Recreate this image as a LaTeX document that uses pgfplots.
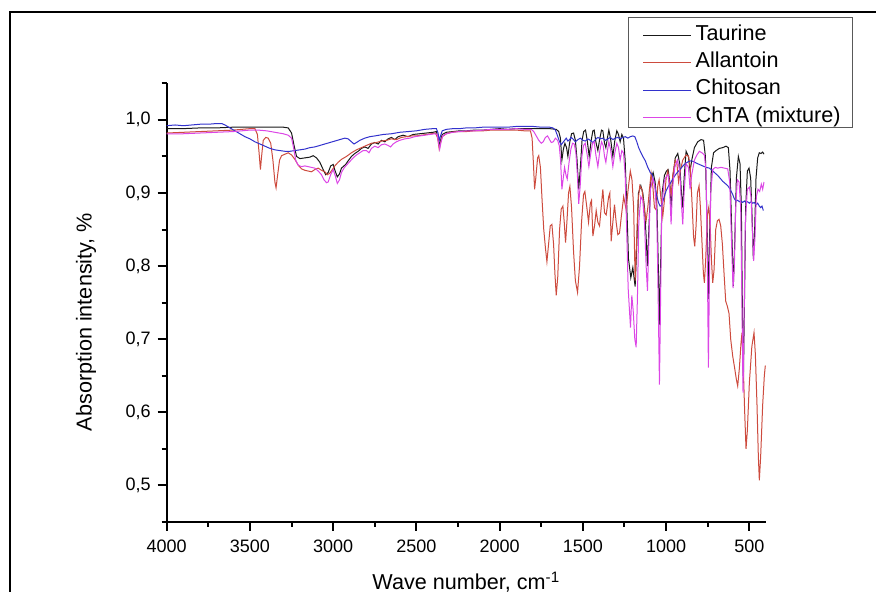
\documentclass[border=0pt]{standalone}
\usepackage{fontspec}
\setmainfont{Liberation Sans}
\usepackage{pgfplots}
\usepackage{pgfplotstable}
\pgfplotsset{compat=1.18}

\definecolor{taur}{RGB}{25,25,25}
\definecolor{allan}{RGB}{205,75,62}
\definecolor{chito}{RGB}{50,50,205}
\definecolor{chta}{RGB}{220,70,230}

% Taurine
\pgfplotstableread{
w v
4000 0.988
3900 0.988
3800 0.989
3700 0.989
3600 0.990
3500 0.990
3400 0.990
3300 0.990
3270 0.989
3250 0.982
3235 0.965
3220 0.950
3200 0.947
3170 0.948
3140 0.949
3120 0.951
3100 0.948
3080 0.942
3060 0.932
3045 0.925
3030 0.928
3015 0.937
3000 0.939
2988 0.930
2975 0.922
2962 0.926
2950 0.934
2940 0.936
2925 0.939
2910 0.944
2890 0.950
2870 0.954
2850 0.957
2830 0.961
2810 0.963
2790 0.961
2770 0.967
2750 0.969
2730 0.967
2710 0.972
2690 0.970
2670 0.974
2650 0.976
2630 0.973
2610 0.977
2580 0.979
2550 0.977
2520 0.980
2480 0.981
2440 0.982
2400 0.983
2380 0.984
2370 0.975
2362 0.964
2355 0.972
2345 0.980
2320 0.983
2280 0.984
2240 0.985
2200 0.985
2150 0.986
2100 0.986
2050 0.987
2000 0.988
1950 0.987
1900 0.988
1850 0.988
1800 0.988
1750 0.988
1700 0.988
1660 0.987
1645 0.984
1635 0.975
1626 0.945
1617 0.960
1608 0.968
1598 0.962
1590 0.950
1580 0.968
1568 0.981
1556 0.982
1545 0.972
1535 0.945
1525 0.905
1515 0.935
1505 0.972
1495 0.984
1484 0.986
1474 0.972
1462 0.950
1450 0.972
1440 0.985
1432 0.986
1422 0.970
1410 0.958
1398 0.975
1388 0.986
1380 0.985
1370 0.968
1362 0.962
1352 0.976
1344 0.986
1334 0.975
1320 0.950
1308 0.972
1296 0.985
1286 0.980
1276 0.970
1266 0.980
1256 0.975
1246 0.945
1236 0.880
1226 0.810
1212 0.784
1200 0.798
1186 0.772
1176 0.830
1166 0.900
1152 0.910
1140 0.900
1130 0.880
1120 0.840
1112 0.800
1102 0.860
1092 0.918
1078 0.928
1066 0.915
1055 0.880
1046 0.790
1040 0.720
1034 0.790
1024 0.900
1010 0.924
998 0.930
988 0.932
978 0.915
970 0.880
960 0.920
945 0.948
930 0.954
918 0.940
908 0.900
900 0.880
892 0.920
880 0.957
866 0.950
856 0.930
846 0.945
830 0.962
810 0.970
790 0.973
775 0.972
764 0.950
754 0.860
746 0.755
738 0.850
728 0.935
715 0.955
700 0.958
680 0.961
660 0.962
640 0.964
626 0.962
616 0.930
606 0.850
596 0.773
588 0.830
578 0.920
566 0.950
556 0.940
548 0.880
540 0.700
536 0.640
530 0.740
522 0.880
512 0.930
502 0.934
492 0.920
484 0.870
476 0.810
468 0.850
460 0.920
450 0.948
440 0.955
430 0.954
420 0.956
412 0.953
}\taurine

% Allantoin
\pgfplotstableread{
w v
4000 0.982
3900 0.983
3800 0.984
3700 0.985
3600 0.986
3550 0.987
3500 0.988
3470 0.988
3455 0.980
3445 0.955
3437 0.932
3430 0.950
3420 0.972
3405 0.976
3390 0.975
3375 0.968
3362 0.945
3350 0.915
3343 0.907
3335 0.922
3322 0.945
3310 0.951
3290 0.953
3270 0.955
3250 0.952
3230 0.946
3210 0.938
3190 0.933
3170 0.931
3150 0.930
3130 0.929
3110 0.932
3090 0.934
3070 0.931
3050 0.929
3035 0.925
3020 0.927
3005 0.932
2990 0.937
2970 0.942
2950 0.946
2920 0.950
2890 0.955
2860 0.959
2830 0.962
2800 0.965
2770 0.968
2740 0.969
2710 0.971
2680 0.972
2650 0.974
2620 0.973
2590 0.976
2560 0.977
2530 0.978
2500 0.978
2470 0.979
2440 0.980
2410 0.981
2385 0.982
2372 0.975
2363 0.960
2355 0.968
2345 0.977
2320 0.981
2290 0.983
2250 0.984
2200 0.984
2150 0.985
2100 0.985
2050 0.986
2000 0.986
1950 0.986
1900 0.986
1850 0.985
1815 0.985
1805 0.975
1797 0.940
1790 0.905
1783 0.920
1772 0.948
1765 0.951
1755 0.935
1745 0.890
1735 0.850
1725 0.825
1716 0.806
1706 0.830
1696 0.855
1686 0.857
1676 0.830
1668 0.790
1660 0.760
1651 0.785
1640 0.850
1630 0.878
1620 0.882
1612 0.860
1604 0.832
1596 0.860
1586 0.900
1578 0.909
1568 0.880
1556 0.820
1545 0.780
1532 0.764
1520 0.800
1508 0.860
1496 0.898
1488 0.902
1476 0.880
1466 0.860
1455 0.886
1448 0.890
1440 0.841
1430 0.855
1420 0.876
1410 0.860
1400 0.855
1390 0.880
1380 0.905
1370 0.873
1360 0.870
1345 0.895
1338 0.900
1330 0.834
1320 0.860
1310 0.884
1300 0.860
1290 0.843
1280 0.845
1268 0.870
1255 0.895
1240 0.877
1228 0.905
1215 0.930
1205 0.918
1195 0.880
1186 0.780
1178 0.830
1168 0.890
1158 0.910
1145 0.905
1132 0.880
1120 0.862
1110 0.880
1100 0.905
1090 0.927
1080 0.910
1070 0.880
1060 0.877
1050 0.910
1042 0.918
1032 0.895
1020 0.868
1010 0.890
1000 0.920
990 0.930
980 0.915
970 0.895
960 0.925
945 0.945
935 0.940
925 0.915
915 0.930
900 0.945
880 0.952
865 0.950
855 0.935
845 0.890
835 0.840
828 0.827
820 0.855
812 0.900
802 0.910
794 0.880
784 0.830
776 0.790
770 0.777
762 0.810
752 0.870
744 0.880
736 0.860
728 0.810
720 0.777
712 0.795
702 0.850
692 0.862
682 0.864
672 0.855
662 0.830
652 0.790
642 0.752
632 0.745
622 0.735
612 0.700
600 0.677
588 0.660
578 0.645
570 0.636
560 0.660
550 0.695
544 0.709
536 0.660
528 0.600
520 0.550
512 0.575
500 0.640
485 0.690
472 0.709
464 0.680
454 0.610
446 0.540
440 0.507
432 0.540
420 0.610
410 0.650
404 0.664
}\allantoin

% Chitosan
\pgfplotstableread{
w v
4000 0.992
3950 0.993
3900 0.992
3850 0.993
3800 0.994
3750 0.994
3700 0.995
3670 0.995
3650 0.993
3620 0.989
3590 0.985
3560 0.981
3530 0.977
3500 0.974
3470 0.970
3440 0.967
3410 0.964
3380 0.961
3350 0.959
3320 0.958
3290 0.957
3260 0.957
3230 0.958
3200 0.959
3170 0.960
3140 0.962
3110 0.963
3080 0.965
3050 0.967
3020 0.969
2990 0.971
2960 0.973
2930 0.975
2910 0.974
2890 0.970
2875 0.967
2860 0.969
2840 0.972
2810 0.975
2780 0.977
2750 0.978
2700 0.980
2650 0.981
2600 0.983
2550 0.984
2500 0.985
2450 0.987
2400 0.988
2380 0.988
2370 0.982
2363 0.972
2355 0.978
2345 0.985
2320 0.987
2280 0.988
2240 0.988
2200 0.989
2150 0.989
2100 0.990
2050 0.990
2000 0.990
1950 0.990
1900 0.991
1850 0.991
1800 0.991
1750 0.990
1700 0.990
1680 0.989
1665 0.986
1652 0.978
1640 0.970
1630 0.966
1620 0.969
1610 0.972
1600 0.975
1590 0.971
1580 0.973
1570 0.976
1560 0.974
1545 0.970
1530 0.973
1515 0.975
1500 0.972
1485 0.971
1470 0.974
1455 0.972
1440 0.969
1425 0.973
1410 0.976
1395 0.974
1380 0.975
1365 0.972
1350 0.974
1335 0.976
1320 0.973
1305 0.975
1290 0.976
1275 0.974
1260 0.976
1245 0.977
1230 0.975
1215 0.977
1200 0.978
1188 0.977
1176 0.970
1165 0.962
1155 0.957
1140 0.950
1125 0.944
1110 0.935
1095 0.928
1084 0.925
1070 0.912
1058 0.898
1046 0.887
1036 0.882
1026 0.883
1014 0.893
1000 0.903
985 0.910
970 0.915
955 0.921
940 0.926
925 0.930
910 0.934
895 0.938
880 0.941
865 0.943
850 0.944
835 0.943
820 0.941
800 0.939
780 0.937
760 0.935
740 0.934
724 0.931
705 0.927
690 0.924
675 0.920
660 0.916
645 0.913
630 0.910
615 0.905
600 0.898
590 0.892
580 0.889
570 0.890
560 0.888
550 0.889
540 0.887
530 0.889
520 0.887
510 0.888
500 0.886
490 0.888
480 0.886
470 0.887
460 0.884
450 0.886
440 0.882
432 0.880
424 0.882
416 0.876
}\chitosan

% ChTA (mixture)
\pgfplotstableread{
w v
4000 0.981
3900 0.981
3800 0.982
3700 0.983
3600 0.984
3550 0.985
3500 0.986
3450 0.986
3400 0.985
3350 0.983
3300 0.981
3270 0.979
3250 0.975
3238 0.962
3225 0.945
3210 0.938
3190 0.936
3170 0.937
3150 0.936
3130 0.935
3110 0.934
3090 0.930
3070 0.925
3055 0.918
3040 0.914
3030 0.915
3015 0.925
3000 0.932
2988 0.924
2975 0.913
2962 0.918
2950 0.928
2935 0.934
2920 0.938
2900 0.943
2880 0.948
2860 0.952
2840 0.955
2820 0.958
2800 0.958
2785 0.955
2770 0.961
2750 0.964
2730 0.962
2710 0.966
2690 0.967
2670 0.965
2655 0.963
2640 0.967
2620 0.970
2600 0.972
2570 0.974
2540 0.975
2510 0.977
2480 0.978
2450 0.979
2420 0.980
2390 0.981
2375 0.980
2367 0.968
2360 0.960
2352 0.970
2342 0.978
2320 0.981
2280 0.983
2240 0.984
2200 0.985
2150 0.985
2100 0.986
2050 0.987
2000 0.987
1950 0.987
1900 0.988
1850 0.987
1810 0.987
1795 0.984
1780 0.978
1765 0.972
1750 0.968
1738 0.970
1725 0.976
1712 0.978
1700 0.973
1690 0.969
1678 0.970
1665 0.975
1652 0.972
1642 0.965
1634 0.945
1626 0.905
1618 0.920
1610 0.935
1602 0.925
1594 0.919
1584 0.940
1572 0.960
1562 0.968
1552 0.967
1542 0.955
1533 0.925
1525 0.885
1516 0.910
1506 0.950
1496 0.965
1486 0.968
1476 0.955
1464 0.936
1452 0.955
1442 0.968
1432 0.970
1422 0.952
1410 0.936
1398 0.958
1388 0.970
1378 0.965
1370 0.950
1362 0.942
1352 0.958
1344 0.970
1334 0.960
1320 0.936
1308 0.955
1296 0.968
1286 0.962
1276 0.945
1266 0.958
1256 0.955
1246 0.925
1238 0.860
1228 0.770
1214 0.716
1206 0.760
1198 0.740
1188 0.700
1180 0.689
1172 0.760
1164 0.860
1152 0.895
1140 0.890
1130 0.860
1120 0.800
1112 0.766
1104 0.830
1094 0.905
1080 0.920
1068 0.910
1056 0.870
1048 0.760
1040 0.638
1034 0.740
1026 0.880
1012 0.915
1000 0.922
988 0.925
978 0.900
970 0.857
962 0.905
948 0.935
932 0.945
918 0.930
908 0.885
900 0.857
892 0.900
880 0.940
866 0.935
856 0.905
846 0.925
830 0.945
815 0.952
800 0.957
785 0.955
770 0.952
760 0.930
752 0.800
746 0.661
740 0.780
732 0.900
720 0.932
705 0.935
690 0.934
670 0.935
650 0.934
630 0.933
618 0.915
608 0.840
598 0.770
590 0.800
582 0.880
572 0.918
562 0.915
552 0.880
544 0.740
538 0.627
532 0.720
524 0.860
512 0.905
500 0.908
490 0.895
482 0.850
474 0.807
466 0.840
458 0.895
448 0.905
438 0.902
428 0.912
420 0.905
412 0.915
}\chta

\begin{document}
\begin{tikzpicture}
% page = 876 x 592 px at 0.5pt per px, axis box corner at the origin
\useasboundingbox (-83.35pt,-35pt) rectangle (354.65pt,261pt);
\draw[line width=1pt] (-78.35pt,-45pt) -- (-78.35pt,255pt) -- (370pt,255pt);
\begin{axis}[
    at={(0pt,0pt)}, anchor=south west,
    scale only axis,
    width=299.65pt, height=219.35pt,
    x dir=reverse,
    xmin=400, xmax=4000,
    ymin=0.45, ymax=1.05,
    axis lines=left,
    axis line style={-, line width=1pt},
    tick align=outside,
    tick style={black, line width=1pt},
    major tick length=4.5pt,
    minor tick length=2.5pt,
    xtick={500,1000,1500,2000,2500,3000,3500,4000},
    minor xtick={750,1250,1750,2250,2750,3250,3750},
    ytick={0.5,0.6,0.7,0.8,0.9,1.0},
    minor ytick={0.45,0.55,0.65,0.75,0.85,0.95,1.05},
    /pgf/number format/assume math mode=true,
    ticklabel style={font=\fontsize{9}{10}\selectfont},
    xticklabel style={/pgf/number format/1000 sep={}, yshift=-1pt},
    yticklabel style={/pgf/number format/.cd, fixed, fixed zerofill, precision=1, use comma},
    label style={font=\fontsize{10.8}{13}\selectfont},
    xlabel={Wave number, cm\textsuperscript{-1}},
    ylabel={Absorption intensity, \%},
    xlabel style={at={(axis description cs:0.5,-0.155)}, anchor=base},
    ylabel style={at={(axis description cs:-0.1347,0.4559)}, anchor=center},
    legend style={at={(1.1452,1.1511)}, anchor=north east,
        draw=black!65, line width=0.5pt, fill=white,
        font=\fontsize{10.8}{13}\selectfont,
        inner xsep=4pt, inner ysep=0pt, row sep=0pt,
        nodes={inner xsep=2pt, inner ysep=1.7pt, text height=9.6pt, text depth=0.7pt}},
    legend cell align=left,
    legend image code/.code={\path (0pt,0pt); \draw[#1] (3pt,-2pt) -- (27pt,-2pt);},
]
\addplot[taur, line width=0.5pt, no markers] table[x=w, y=v] {\taurine};
\addplot[allan, line width=0.5pt, no markers] table[x=w, y=v] {\allantoin};
\addplot[chito, line width=0.5pt, no markers] table[x=w, y=v] {\chitosan};
\addplot[chta, line width=0.5pt, no markers] table[x=w, y=v] {\chta};
\legend{Taurine, Allantoin, Chitosan, ChTA (mixture)}
\end{axis}
\end{tikzpicture}
\end{document}
